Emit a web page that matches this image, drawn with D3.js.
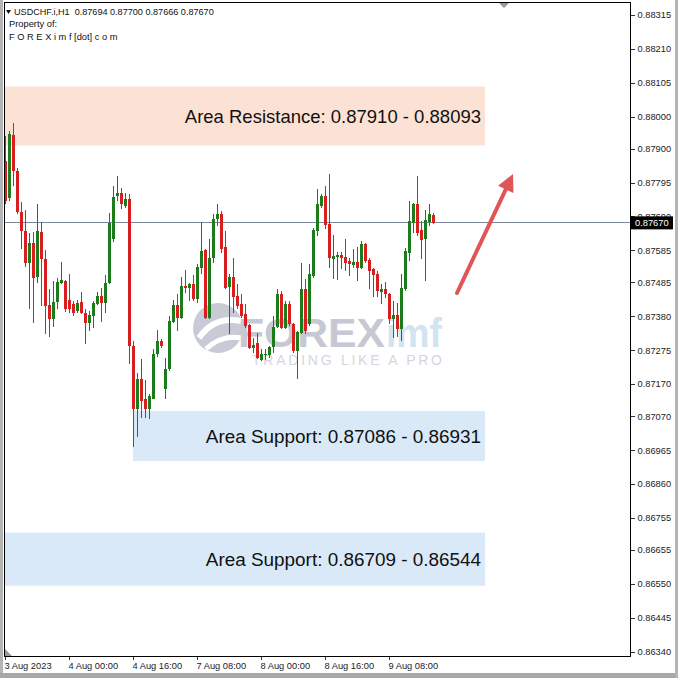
<!DOCTYPE html>
<html><head><meta charset="utf-8">
<script src="https://cdn.jsdelivr.net/npm/d3@7"></script>
<style>html,body{margin:0;padding:0;background:#fff}svg{display:block}</style>
</head><body>
<svg id="c" width="678" height="678"></svg>
<script>
const openP = [
.87862,.87747,.87943,.87831,.87704,.87645,.87545,.87607,.87502,.87642,
.87558,.87415,.87371,.87424,.87483,.87489,.87430,.87418,.87396,.87424,
.87390,.87359,.87380,.87418,.87443,.87421,.87483,.87620,.87754,.87763,
.87722,.87744,.87287,.87094,.87184,.87122,.87091,.87125,.87262,.87303,
.87153,.87216,.87362,.87415,.87374,.87474,.87467,.87480,.87433,.87530,
.87586,.87374,.87561,.87682,.87698,.87595,.87471,.87502,.87443,.87418,
.87387,.87352,.87281,.87296,.87244,.87259,.87259,.87284,.87346,.87449,
.87343,.87418,.87355,.87272,.87327,.87464,.87355,.87505,.87645,.87722,
.87754,.87666,.87558,.87564,.87570,.87564,.87551,.87539,.87548,.87530,
.87604,.87555,.87527,.87511,.87455,.87464,.87449,.87371,.87383,.87340,
.87464,.87576,.87670,.87729,.87648,.87620,.87673,.87694];
const highP = [
.87940,.87956,.87981,.87841,.87735,.87710,.87638,.87642,.87729,.87673,
.87586,.87464,.87489,.87499,.87548,.87492,.87511,.87427,.87430,.87455,
.87402,.87396,.87427,.87455,.87467,.87508,.87701,.87785,.87816,.87778,
.87763,.87760,.87303,.87203,.87247,.87181,.87138,.87278,.87337,.87309,
.87250,.87380,.87430,.87449,.87502,.87523,.87483,.87508,.87542,.87673,
.87589,.87620,.87698,.87729,.87707,.87645,.87511,.87561,.87480,.87449,
.87418,.87355,.87312,.87327,.87278,.87278,.87287,.87380,.87464,.87458,
.87427,.87427,.87359,.87334,.87545,.87495,.87542,.87654,.87775,.87760,
.87785,.87822,.87632,.87579,.87579,.87620,.87561,.87589,.87595,.87614,
.87607,.87561,.87530,.87520,.87480,.87486,.87452,.87427,.87421,.87511,
.87592,.87738,.87732,.87816,.87676,.87710,.87729,.87700];
const lowP = [
.87729,.87738,.87785,.87698,.87589,.87533,.87402,.87359,.87483,.87411,
.87324,.87315,.87346,.87402,.87480,.87393,.87390,.87380,.87390,.87387,
.87293,.87334,.87343,.87415,.87362,.87390,.87480,.87610,.87738,.87713,
.87716,.87231,.86976,.87007,.87063,.87063,.87060,.87122,.87253,.87281,
.87122,.87209,.87359,.87334,.87371,.87452,.87427,.87427,.87421,.87511,
.87371,.87371,.87545,.87660,.87576,.87464,.87324,.87390,.87402,.87374,
.87343,.87278,.87265,.87247,.87240,.87244,.87250,.87265,.87343,.87340,
.87340,.87349,.87265,.87184,.87324,.87324,.87349,.87499,.87629,.87716,
.87651,.87530,.87495,.87492,.87527,.87520,.87505,.87530,.87489,.87527,
.87545,.87464,.87439,.87439,.87418,.87436,.87355,.87312,.87315,.87303,
.87458,.87551,.87638,.87629,.87558,.87489,.87660,.87666];
const closeP = [
.87738,.87946,.87831,.87704,.87645,.87545,.87607,.87499,.87645,.87558,
.87411,.87371,.87424,.87486,.87492,.87402,.87402,.87390,.87421,.87390,
.87359,.87383,.87421,.87443,.87421,.87483,.87670,.87750,.87763,.87729,
.87744,.87287,.87091,.87184,.87116,.87091,.87132,.87262,.87303,.87287,
.87216,.87365,.87415,.87374,.87474,.87467,.87480,.87433,.87533,.87583,
.87374,.87561,.87682,.87698,.87589,.87467,.87502,.87439,.87411,.87380,
.87349,.87281,.87290,.87250,.87262,.87262,.87284,.87346,.87449,.87343,
.87418,.87355,.87272,.87331,.87464,.87334,.87511,.87648,.87729,.87754,
.87663,.87561,.87567,.87570,.87561,.87545,.87542,.87548,.87530,.87604,
.87551,.87520,.87508,.87458,.87464,.87449,.87371,.87383,.87340,.87467,
.87583,.87676,.87729,.87638,.87617,.87679,.87698,.87670];

const timeTickIdx = [0,16,32,48,64,80,96];
const timeTickLabels = ["3 Aug 2023","4 Aug 00:00","4 Aug 16:00","7 Aug 08:00","8 Aug 00:00","8 Aug 16:00","9 Aug 08:00"];
const priceTickLabels = ["0.88315","0.88210","0.88105","0.88000","0.87900","0.87795","0.87690","0.87585","0.87485","0.87380","0.87275","0.87170","0.87070","0.86965","0.86860","0.86755","0.86655","0.86550","0.86445","0.86340"];
const zoneNames = ["Area Resistance","Area Support","Area Support"];
const zoneFrom = [0.87910, 0.87086, 0.86709];
const zoneTo = [0.88093, 0.86931, 0.86544];
const zoneStartIdx = [0, 32, 0];
const lastPrice = 0.87670;
const header = "USDCHF.i,H1  0.87694 0.87700 0.87666 0.87670";

const svg = d3.select("#c");
const FONT = "'Liberation Sans', Arial, sans-serif";
const L = 4.5, T = 2.5, R = 630.5, B = 656.5;
const x = d3.scaleLinear().domain([0, 107]).range([5, 433]);
const y = d3.scaleLinear().domain([0.86340, 0.88315]).range([651.5, 15]);

// outer window chrome
svg.append("rect").attr("x",0).attr("y",0).attr("width",678).attr("height",678).attr("fill","#fff");
svg.append("rect").attr("x",0).attr("y",0).attr("width",3).attr("height",678).attr("fill","#b4b4b4");
svg.append("rect").attr("x",0).attr("y",673).attr("width",678).attr("height",5).attr("fill","#a8a8a8");
svg.append("rect").attr("x",675).attr("y",0).attr("width",3).attr("height",678).attr("fill","#b4b4b4");

// zones
const zoneFill = ["#fce1d5","#d9e9f8","#d9e9f8"];
zoneNames.forEach((n,k)=>{
  const y1 = y(zoneTo[k]) , y2 = y(zoneFrom[k]);
  svg.append("rect").attr("x", x(zoneStartIdx[k]))
    .attr("y", Math.min(y1,y2)).attr("width", 485 - x(zoneStartIdx[k]))
    .attr("height", Math.abs(y2-y1)).attr("fill", zoneFill[k]);
});

// watermark
const wm = svg.append("g");
wm.append("circle").attr("cx",218).attr("cy",328).attr("r",25).attr("fill","#c8cbd5");
wm.append("path").attr("d","M199,338 Q214,316 241,321").attr("fill","none").attr("stroke","#fff").attr("stroke-width",6);
wm.append("path").attr("d","M206,349 Q222,334 242,338").attr("fill","none").attr("stroke","#fff").attr("stroke-width",5);
wm.append("text").attr("x",238).attr("y",347).attr("font-family",FONT).attr("font-weight","bold")
  .attr("font-size",41).attr("fill","#c6c9d3").attr("textLength",147).attr("lengthAdjust","spacingAndGlyphs").text("FOREX");
wm.append("text").attr("x",386).attr("y",347).attr("font-family",FONT).attr("font-weight","bold")
  .attr("font-size",41).attr("fill","#d2e3f1").attr("textLength",56).attr("lengthAdjust","spacingAndGlyphs").text("imf");
wm.append("text").attr("x",252).attr("y",365).attr("font-family",FONT)
  .attr("font-size",14).attr("fill","#d3d6dd").attr("textLength",190).attr("lengthAdjust","spacing").text("TRADING LIKE A PRO");

// zone labels
const zoneFont = [18.5, 18.9, 18.9];
zoneNames.forEach((n,k)=>{
  const yc = y((zoneFrom[k]+zoneTo[k])/2);
  svg.append("text").attr("x",481).attr("y",yc+6.5).attr("text-anchor","end")
    .attr("font-family",FONT).attr("font-size",zoneFont[k]).attr("fill","#111")
    .text(n + ": " + zoneFrom[k].toFixed(5) + " - " + zoneTo[k].toFixed(5));
});

// price line
svg.append("line").attr("x1",L).attr("x2",R).attr("y1",Math.round(y(lastPrice))-0.5).attr("y2",Math.round(y(lastPrice))-0.5)
  .attr("stroke","#7a8796").attr("stroke-width",1);

// candles
const GREEN = "#1c7c1c", RED = "#d81e1e";
const idx = d3.range(openP.length);
const cg = svg.append("g").attr("shape-rendering","crispEdges");
cg.selectAll("line.w").data(idx).join("line")
  .attr("x1", i=>Math.round(x(i))+0.5).attr("x2", i=>Math.round(x(i))+0.5)
  .attr("y1", i=>y(highP[i])).attr("y2", i=>y(lowP[i]))
  .attr("stroke", i=> closeP[i]>=openP[i]?GREEN:RED).attr("stroke-width",1);
cg.selectAll("rect.b").data(idx).join("rect")
  .attr("x", i=>Math.round(x(i))-1).attr("width",3)
  .attr("y", i=>y(Math.max(openP[i],closeP[i])))
  .attr("height", i=>Math.max(1, Math.abs(y(openP[i])-y(closeP[i]))))
  .attr("fill", i=> closeP[i]>=openP[i]?GREEN:RED);

// arrow
const tail=[457,293], tip=[513,174];
const dx=tip[0]-tail[0], dy=tip[1]-tail[1], len=Math.hypot(dx,dy), ux=dx/len, uy=dy/len;
const bx=tip[0]-17*ux, by=tip[1]-17*uy, px=-uy, py=ux;
svg.append("line").attr("x1",tail[0]).attr("y1",tail[1]).attr("x2",bx+2*ux).attr("y2",by+2*uy)
  .attr("stroke","#e05656").attr("stroke-width",4).attr("stroke-linecap","round");
svg.append("polygon").attr("points",[[tip[0],tip[1]],[bx+8.5*px,by+8.5*py],[bx-8.5*px,by-8.5*py]].map(p=>p.join(",")).join(" "))
  .attr("fill","#e05656");

// frame
svg.append("rect").attr("x",L).attr("y",T).attr("width",R-L).attr("height",B-T)
  .attr("fill","none").attr("stroke","#000").attr("stroke-width",1).attr("shape-rendering","crispEdges");

// right price axis
const yAxis = d3.axisRight(y).tickValues(priceTickLabels.map(Number)).tickSize(4).tickPadding(3)
  .tickFormat((d,i)=>priceTickLabels[i]);
const ya = svg.append("g").attr("transform",`translate(${R},0)`).call(yAxis);
ya.select(".domain").remove();
ya.selectAll("line").attr("stroke","#333").attr("shape-rendering","crispEdges");
ya.selectAll("text").attr("font-family",FONT).attr("font-size",9.3).attr("fill","#222");

// current price label
const yl = y(lastPrice);
svg.append("rect").attr("x",631).attr("y",yl-6.5).attr("width",42).attr("height",13).attr("fill","#000");
svg.append("text").attr("x",635).attr("y",yl+3.3).attr("font-family",FONT).attr("font-size",9.3)
  .attr("fill","#fff").text(lastPrice.toFixed(5));

// bottom time axis
const xAxis = d3.axisBottom(x).tickValues(timeTickIdx).tickSize(3).tickFormat((d,i)=>timeTickLabels[i]);
const xa = svg.append("g").attr("transform",`translate(0,${B})`).call(xAxis);
xa.select(".domain").remove();
xa.selectAll("line").attr("stroke","#333").attr("shape-rendering","crispEdges");
xa.selectAll("text").attr("text-anchor","start").attr("x",-1).attr("y",6).attr("dy","0.71em")
  .attr("font-family",FONT).attr("font-size",9.3).attr("fill","#222");

// header
svg.append("polygon").attr("points","6,10 11,10 8.5,14").attr("fill","#111");
svg.append("text").attr("x",14).attr("y",15).attr("font-family",FONT).attr("font-size",9.1).attr("fill","#111")
  .attr("xml:space","preserve").style("white-space","pre").text(header);
svg.append("text").attr("x",9).attr("y",27).attr("font-family",FONT).attr("font-size",9.3).attr("fill","#111").text("Property of:");
svg.append("text").attr("x",9).attr("y",39.5).attr("font-family",FONT).attr("font-size",9.3).attr("fill","#111")
  .text("F O R E X i m f [dot] c o m");

// small chart markers
svg.append("polygon").attr("points","499,3 509,3 504,8").attr("fill","#9a9a9a");
svg.append("polygon").attr("points","5,649 5,656 12,656").attr("fill","#9a9a9a");
</script>
</body></html>
